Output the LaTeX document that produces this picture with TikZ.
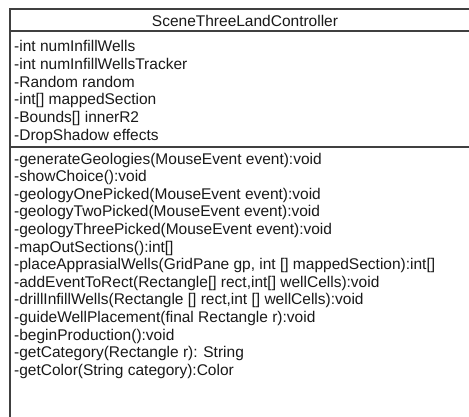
\documentclass[tikz,border=0pt]{standalone}
\usepackage{fontspec}
\setmainfont{Liberation Sans}
\begin{document}
\begin{tikzpicture}[x=1pt,y=-1pt,
  boxline/.style={draw=black!75,line width=1.3pt},
  member/.style={anchor=west,inner sep=0pt,font=\fontsize{15.5}{18}\selectfont,text=black!90},
  title/.style={anchor=center,inner sep=0pt,font=\fontsize{15.5}{18}\selectfont,text=black!90}]
\useasboundingbox (0,0) rectangle (469,416);
\fill[white] (0,0) rectangle (469,416);
\begin{scope}
\clip (0,0) rectangle (469,416);
\draw[boxline] (10,9) rectangle (480,430);
\draw[boxline] (10,31) -- (480,31);
\draw[boxline] (10,147) -- (480,147);
\end{scope}
\node[title] (cls) at (245,21) {SceneThreeLandController};
\foreach \t [count=\i from 0] in {
  -int numInfillWells,
  -int numInfillWellsTracker,
  -Random random,
  -int[] mappedSection,
  -Bounds[] innerR2,
  -DropShadow effects}{
  \node[member] (a\i) at (14,{46+18*\i}) {\t};
}
\foreach \t [count=\i from 0] in {
  -generateGeologies(MouseEvent event):void,
  -showChoice():void,
  -geologyOnePicked(MouseEvent event):void,
  -geologyTwoPicked(MouseEvent event):void,
  -geologyThreePicked(MouseEvent event):void,
  -mapOutSections():int[],
  {-placeApprasialWells(GridPane gp, int [] mappedSection):int[]},
  {-addEventToRect(Rectangle[] rect,int[] wellCells):void},
  {-drillInfillWells(Rectangle [] rect,int [] wellCells):void},
  -guideWellPlacement(final Rectangle r):void,
  -beginProduction():void,
  -getCategory(Rectangle r): String,
  -getColor(String category):Color}{
  \node[member] (m\i) at (14,{160+17.6*\i}) {\t};
}
\end{tikzpicture}
\end{document}
